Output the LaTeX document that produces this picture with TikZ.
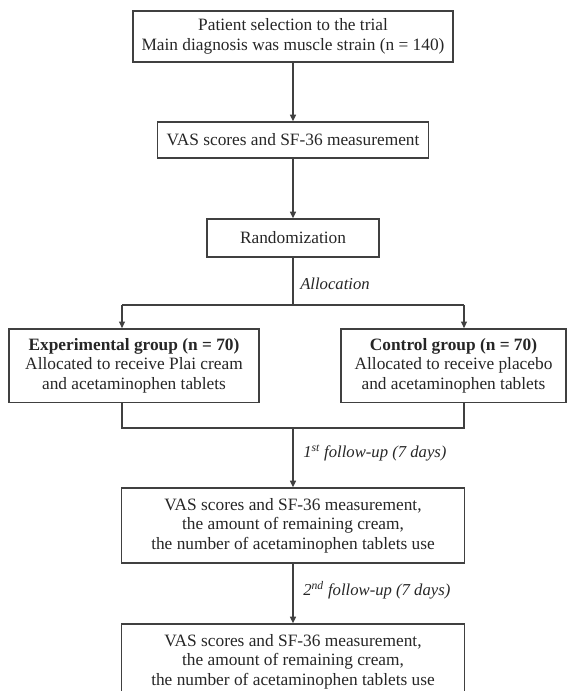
\documentclass[tikz,border=0pt]{standalone}
\usepackage{fontspec}
\setmainfont{Liberation Serif}
\usetikzlibrary{arrows.meta}

\begin{document}
\begin{tikzpicture}[x=0.75pt, y=-0.75pt,
        box/.style={draw=black!75, line width=1pt, align=center, inner sep=0pt,
            font=\fontsize{13}{14.5}\selectfont, text=black!85},
        line/.style={draw=black!75, line width=1pt},
        arrow/.style={line, -{Triangle[length=5pt, width=4.5pt]}},
        note/.style={anchor=west, inner sep=0pt, font=\fontsize{12.5}{14}\selectfont\itshape, text=black!85}]
        % Draw page
        \useasboundingbox (0,0) rectangle (568,691);
        % Draw boxes
        \node[box, minimum width=240pt, minimum height=38.25pt] (select) at (293,36.5)
            {Patient selection to the trial\\Main diagnosis was muscle strain (n = 140)};
        \node[box, minimum width=203.25pt, minimum height=27pt] (vas) at (293,140)
            {VAS scores and SF-36 measurement};
        \node[box, minimum width=129pt, minimum height=28.5pt] (rand) at (293,238)
            {Randomization};
        \node[box, minimum width=187.5pt, minimum height=55pt] (exp) at (134,365.5)
            {\textbf{Experimental group (n = 70)}\\Allocated to receive Plai cream\\and acetaminophen tablets};
        \node[box, minimum width=168.75pt, minimum height=55pt] (ctrl) at (453.5,365.5)
            {\textbf{Control group (n = 70)}\\Allocated to receive placebo\\and acetaminophen tablets};
        \node[box, minimum width=257.25pt, minimum height=56.25pt] (fuone) at (293,525.5)
            {VAS scores and SF-36 measurement,\\the amount of remaining cream,\\the number of acetaminophen tablets use};
        \node[box, minimum width=257.25pt, minimum height=56.25pt] (futwo) at (293,661.5)
            {VAS scores and SF-36 measurement,\\the amount of remaining cream,\\the number of acetaminophen tablets use};
        % Draw labels
        \node[note] (alloc) at (300,284) {Allocation};
        \node[note] (first) at (303,453) {1\textsuperscript{st} follow-up (7 days)};
        \node[note] (second) at (303,590) {2\textsuperscript{nd} follow-up (7 days)};
        % Draw branch points
        \coordinate (split) at (293,305);
        \coordinate (splitL) at (122,305);
        \coordinate (splitR) at (464,305);
        \coordinate (join) at (293,428);
        \coordinate (joinL) at (122,428);
        \coordinate (joinR) at (464,428);
        % Draw connectors
        \draw[arrow] (select) -- (vas);
        \draw[arrow] (vas) -- (rand);
        \draw[line] (rand) -- (split);
        \draw[line] (splitL) -- (splitR);
        \draw[arrow] (splitL) -- (splitL |- exp.north);
        \draw[arrow] (splitR) -- (splitR |- ctrl.north);
        \draw[line] (exp.south -| joinL) -- (joinL) -- (joinR) -- (ctrl.south -| joinR);
        \draw[arrow] (join) -- (fuone);
        \draw[arrow] (fuone) -- (futwo);
    \end{tikzpicture}
\end{document}
